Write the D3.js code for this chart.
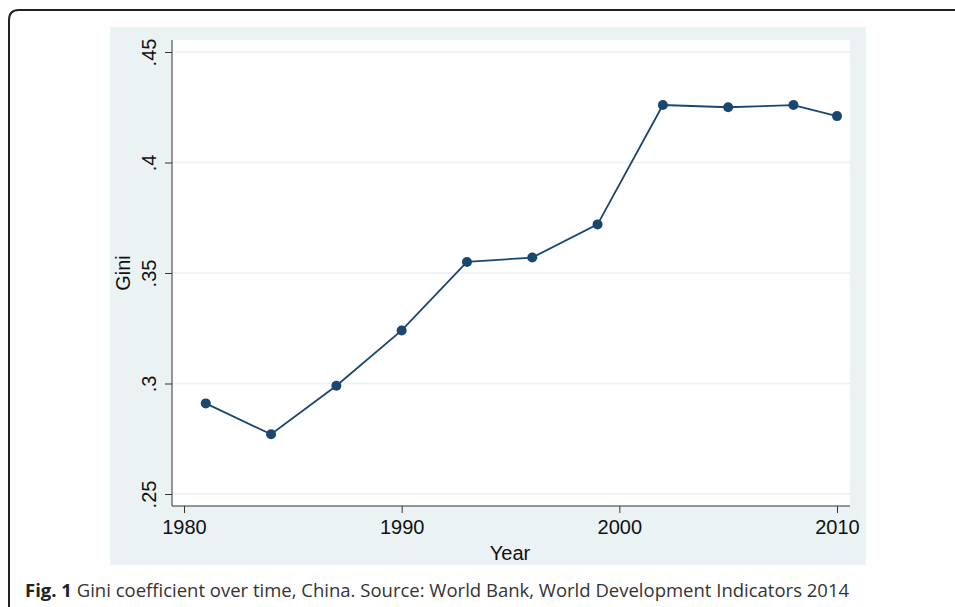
<!DOCTYPE html>
<html>
<head>
<meta charset="utf-8">
<script src="https://cdn.jsdelivr.net/npm/d3@7"></script>
<style>
  html, body { margin: 0; padding: 0; background: #fff; }
  svg { display: block; }
</style>
</head>
<body>
<svg id="chart" width="955" height="607"></svg>
<script>
// 데이터
const years = [1981, 1984, 1987, 1990, 1993, 1996, 1999, 2002, 2005, 2008, 2010];
const gini = [0.291, 0.277, 0.299, 0.324, 0.355, 0.357, 0.372, 0.426, 0.425, 0.426, 0.421];
const xTicks = [1980, 1990, 2000, 2010];
const yTicks = [0.25, 0.3, 0.35, 0.4, 0.45];
const yTickLabels = [".25", ".3", ".35", ".4", ".45"];

const svg = d3.select("#chart");
const axisFont = "'Liberation Sans', Arial, Helvetica, sans-serif";
const navy = "#1a476f";

// 바깥 테두리 (둥근 모서리, 오른쪽/아래는 잘림)
svg.append("path")
  .attr("d", "M 9 607 L 9 20 Q 9 10 19 10 L 960 10")
  .attr("fill", "none")
  .attr("stroke", "#222")
  .attr("stroke-width", 2);

// 배경 패널
svg.append("rect")
  .attr("x", 110).attr("y", 27)
  .attr("width", 756).attr("height", 538)
  .attr("fill", "#eaf2f3");

// 플롯 영역
const plot = { left: 172, right: 850, top: 40, bottom: 506 };
svg.append("rect")
  .attr("x", plot.left).attr("y", plot.top)
  .attr("width", plot.right - plot.left).attr("height", plot.bottom - plot.top)
  .attr("fill", "#fff");

const x = d3.scaleLinear().domain([1980, 2010]).range([184, 837]);
const y = d3.scaleLinear().domain([0.25, 0.45]).range([494, 52]);

// 격자선
svg.append("g")
  .selectAll("line")
  .data(yTicks)
  .join("line")
  .attr("x1", plot.left).attr("x2", plot.right)
  .attr("y1", d => y(d)).attr("y2", d => y(d))
  .attr("stroke", "#eaf2f3")
  .attr("stroke-width", 1.5);

// y축
const yAxis = svg.append("g")
  .attr("transform", `translate(${plot.left},0)`)
  .call(d3.axisLeft(y).tickValues(yTicks).tickSize(7).tickFormat((d, i) => yTickLabels[i]));
yAxis.select(".domain").attr("d", `M0,${plot.top}V${plot.bottom}`).attr("stroke", "#333");
yAxis.selectAll(".tick line").attr("stroke", "#333");
yAxis.selectAll(".tick text")
  .attr("font-family", axisFont)
  .attr("font-size", 20)
  .attr("fill", "#111")
  .attr("text-anchor", "middle")
  .attr("x", null).attr("dy", null)
  .attr("transform", "translate(-16,0) rotate(-90)");

// x축
const xAxis = svg.append("g")
  .attr("transform", `translate(0,${plot.bottom})`)
  .call(d3.axisBottom(x).tickValues(xTicks).tickSize(7).tickFormat(d3.format("d")));
xAxis.select(".domain").attr("d", `M${plot.left},0H${plot.right}`).attr("stroke", "#333");
xAxis.selectAll(".tick line").attr("stroke", "#333");
xAxis.selectAll(".tick text")
  .attr("font-family", axisFont)
  .attr("font-size", 20)
  .attr("fill", "#111")
  .attr("y", 14)
  .attr("dy", "0.71em");

// 축 제목
svg.append("text")
  .attr("x", 510).attr("y", 560)
  .attr("text-anchor", "middle")
  .attr("font-family", axisFont)
  .attr("font-size", 20)
  .attr("fill", "#111")
  .text("Year");

svg.append("text")
  .attr("transform", "translate(130,273) rotate(-90)")
  .attr("text-anchor", "middle")
  .attr("font-family", axisFont)
  .attr("font-size", 20)
  .attr("fill", "#111")
  .text("Gini");

// 선 + 점
const points = years.map((yr, i) => ({ year: yr, value: gini[i] }));
svg.append("path")
  .datum(points)
  .attr("fill", "none")
  .attr("stroke", navy)
  .attr("stroke-width", 1.8)
  .attr("d", d3.line().x(d => x(d.year)).y(d => y(d.value)));

svg.append("g")
  .selectAll("circle")
  .data(points)
  .join("circle")
  .attr("cx", d => x(d.year))
  .attr("cy", d => y(d.value))
  .attr("r", 5)
  .attr("fill", navy);

// 캡션
const cap = svg.append("text")
  .attr("x", 25).attr("y", 597)
  .attr("font-family", "'Open Sans', sans-serif")
  .attr("font-size", 18.5)
  .attr("fill", "#333");
cap.append("tspan").attr("font-weight", "700").attr("fill", "#222").text("Fig. 1");
cap.append("tspan").text(" Gini coefficient over time, China. Source: World Bank, World Development Indicators 2014");
</script>
</body>
</html>
